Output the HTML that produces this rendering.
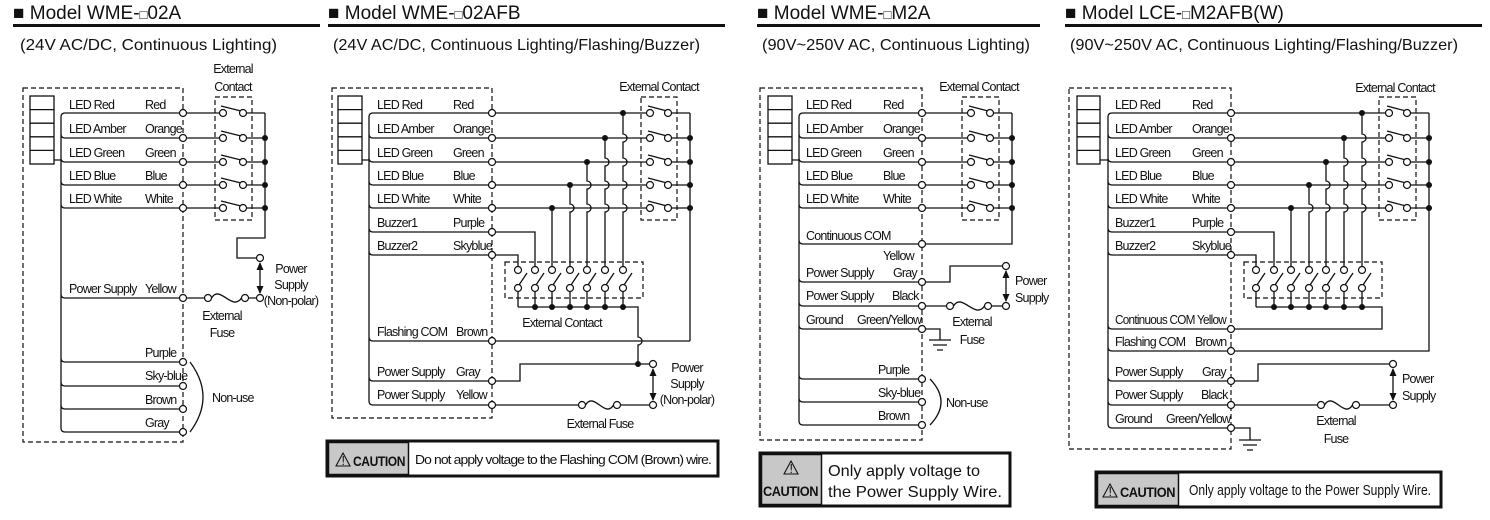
<!DOCTYPE html>
<html><head><meta charset="utf-8"><style>
html,body{margin:0;padding:0;background:#fff;}
svg{display:block;}
.w{stroke:#111;fill:none;stroke-width:1.3}
.d{stroke:#111;fill:none;stroke-width:1.2;stroke-dasharray:5 3}
.t{fill:#fff;stroke:#111;stroke-width:1.2}
.dot{fill:#111}
text{font-family:"Liberation Sans",sans-serif;font-size:12.5px;letter-spacing:-0.8px;fill:#111}
.ti{font-size:19px;letter-spacing:0}
.st{font-size:16px;letter-spacing:0}
.c{text-anchor:middle}
.cb{font-weight:bold;font-size:14px;letter-spacing:-0.5px}
</style></head><body>
<svg width="1490" height="520" viewBox="0 0 1490 520" xmlns="http://www.w3.org/2000/svg">
<defs>
<marker id="ar" markerWidth="8" markerHeight="8" refX="7" refY="4" orient="auto-start-reverse" markerUnits="userSpaceOnUse"><path d="M0,0.5 L8,4 L0,7.5 z" fill="#111"/></marker>
</defs>

<!-- Headers -->
<text class="ti" x="13" y="19">■ Model WME-<tspan font-size="13">□</tspan>02A</text>
<text class="ti" x="328" y="19">■ Model WME-<tspan font-size="13">□</tspan>02AFB</text>
<text class="ti" x="757" y="19">■ Model WME-<tspan font-size="13">□</tspan>M2A</text>
<text class="ti" x="1065" y="19">■ Model LCE-<tspan font-size="13">□</tspan>M2AFB(W)</text>
<rect x="13" y="24" width="307" height="3" fill="#111"/>
<rect x="328" y="24" width="397" height="3" fill="#111"/>
<rect x="757" y="24" width="283" height="3" fill="#111"/>
<rect x="1065" y="24" width="417" height="3" fill="#111"/>
<text class="st" x="20" y="50" textLength="257" lengthAdjust="spacingAndGlyphs">(24V AC/DC, Continuous Lighting)</text>
<text class="st" x="333" y="50" textLength="367" lengthAdjust="spacingAndGlyphs">(24V AC/DC, Continuous Lighting/Flashing/Buzzer)</text>
<text class="st" x="762" y="50" textLength="268" lengthAdjust="spacingAndGlyphs">(90V~250V AC, Continuous Lighting)</text>
<text class="st" x="1070" y="50" textLength="388" lengthAdjust="spacingAndGlyphs">(90V~250V AC, Continuous Lighting/Flashing/Buzzer)</text>

<!-- ================= PANEL 1 ================= -->
<rect class="d" x="23" y="88" width="160" height="354"/>
<rect class="w" x="30" y="96" width="24" height="68"/>
<path class="w" d="M30 109.6H54M30 123.2H54M30 136.8H54M30 150.4H54M54 160H61"/>
<path class="w" d="M61 117V428
M61 117Q61 113 65 113H180 M61 134Q61 138 65 138H180 M61 158Q61 162 65 162H180 M61 181Q61 185 65 185H180 M61 204Q61 208 65 208H180
M61 294Q61 298 65 298H180 M61 358Q61 362 65 362H180 M61 382Q61 386 65 386H180 M61 405Q61 409 65 409H180 M61 428Q61 432 65 432H180"/>
<g class="t"><circle cx="183" cy="113" r="3.5"/><circle cx="183" cy="138" r="3.5"/><circle cx="183" cy="162" r="3.5"/><circle cx="183" cy="185" r="3.5"/><circle cx="183" cy="208" r="3.5"/><circle cx="183" cy="298" r="3.5"/><circle cx="183" cy="362" r="3.5"/><circle cx="183" cy="386" r="3.5"/><circle cx="183" cy="409" r="3.5"/><circle cx="183" cy="432" r="3.5"/></g>
<text x="69" y="109">LED Red</text><text x="69" y="133">LED Amber</text><text x="69" y="157">LED Green</text><text x="69" y="180">LED Blue</text><text x="69" y="203">LED White</text><text x="69" y="293">Power Supply</text>
<text x="145" y="109">Red</text><text x="145" y="133">Orange</text><text x="145" y="157">Green</text><text x="145" y="180">Blue</text><text x="145" y="203">White</text><text x="145" y="293">Yellow</text>
<text x="145" y="357">Purple</text><text x="145" y="380">Sky-blue</text><text x="145" y="404">Brown</text><text x="145" y="427">Gray</text>
<rect class="d" x="215" y="97" width="37" height="123"/>
<text class="c" x="233" y="73">External</text><text class="c" x="233" y="91">Contact</text>
<path class="w" d="M186.5 113H219.5M186.5 138H219.5M186.5 162H219.5M186.5 185H219.5M186.5 208H219.5
M246.5 113H265M246.5 138H265M246.5 162H265M246.5 185H265M246.5 208H265
M221 106L241 111M221 131L241 136M221 155L241 160M221 178L241 183M221 201L241 206
M265 113V238H237V258H256.5"/>
<g class="t"><circle cx="223" cy="113" r="3.5"/><circle cx="243" cy="113" r="3.5"/><circle cx="223" cy="138" r="3.5"/><circle cx="243" cy="138" r="3.5"/><circle cx="223" cy="162" r="3.5"/><circle cx="243" cy="162" r="3.5"/><circle cx="223" cy="185" r="3.5"/><circle cx="243" cy="185" r="3.5"/><circle cx="223" cy="208" r="3.5"/><circle cx="243" cy="208" r="3.5"/></g>
<g class="dot"><circle cx="265" cy="138" r="3"/><circle cx="265" cy="162" r="3"/><circle cx="265" cy="185" r="3"/><circle cx="265" cy="208" r="3"/></g>
<line class="w" x1="260" y1="263" x2="260" y2="293" marker-start="url(#ar)" marker-end="url(#ar)"/>
<path class="w" d="M186.5 298H204.5M211.5 298C220 284 232 312 241.5 298M248.5 298H256.5"/>
<g class="t"><circle cx="208" cy="298" r="3.5"/><circle cx="245" cy="298" r="3.5"/><circle cx="260" cy="258" r="3.5"/><circle cx="260" cy="298" r="3.5"/></g>
<text class="c" x="291" y="273">Power</text><text class="c" x="291" y="289">Supply</text><text class="c" x="291" y="305">(Non-polar)</text>
<text class="c" x="222" y="320">External</text><text class="c" x="222" y="337">Fuse</text>
<path class="w" d="M190 362Q216 397 190 432"/>
<text x="212" y="402">Non-use</text>

<!-- ================= PANEL 2 ================= -->
<rect class="d" x="332" y="88" width="160" height="330"/>
<rect class="w" x="338" y="96" width="24" height="68"/>
<path class="w" d="M338 109.6H362M338 123.2H362M338 136.8H362M338 150.4H362M362 160H369"/>
<path class="w" d="M369 117V401
M369 117Q369 113 373 113H489 M369 134Q369 138 373 138H489 M369 158Q369 162 373 162H489 M369 181Q369 185 373 185H489 M369 204Q369 208 373 208H489
M369 228Q369 232 373 232H489 M369 251Q369 255 373 255H489 M369 337Q369 341 373 341H489 M369 377Q369 381 373 381H489 M369 401Q369 405 373 405H489"/>
<g class="t"><circle cx="492" cy="113" r="3.5"/><circle cx="492" cy="138" r="3.5"/><circle cx="492" cy="162" r="3.5"/><circle cx="492" cy="185" r="3.5"/><circle cx="492" cy="208" r="3.5"/><circle cx="492" cy="232" r="3.5"/><circle cx="492" cy="255" r="3.5"/><circle cx="492" cy="341" r="3.5"/><circle cx="492" cy="381" r="3.5"/><circle cx="492" cy="405" r="3.5"/></g>
<text x="377" y="109">LED Red</text><text x="377" y="133">LED Amber</text><text x="377" y="157">LED Green</text><text x="377" y="180">LED Blue</text><text x="377" y="203">LED White</text><text x="377" y="227">Buzzer1</text><text x="377" y="250">Buzzer2</text><text x="377" y="336">Flashing COM</text><text x="377" y="376">Power Supply</text><text x="377" y="399">Power Supply</text>
<text x="453" y="109">Red</text><text x="453" y="133">Orange</text><text x="453" y="157">Green</text><text x="453" y="180">Blue</text><text x="453" y="203">White</text><text x="453" y="227">Purple</text><text x="453" y="250">Skyblue</text><text x="456" y="336">Brown</text><text x="456" y="376">Gray</text><text x="456" y="399">Yellow</text>
<rect class="d" x="641" y="97" width="36" height="123"/>
<text class="c" x="659" y="91">External Contact</text>
<path class="w" d="M495.5 113H646.5M495.5 138H646.5M495.5 162H646.5M495.5 185H646.5M495.5 208H646.5
M671.5 113H690M671.5 138H690M671.5 162H690M671.5 185H690M671.5 208H690
M648 106L667 111M648 131L667 136M648 155L667 160M648 178L667 183M648 201L667 206
M690 113V341M495.5 341H690
M623 113V134A4 4 0 0 1 623 142V158A4 4 0 0 1 623 166V181A4 4 0 0 1 623 189V204A4 4 0 0 1 623 212V266.5
M605 138V158A4 4 0 0 1 605 166V181A4 4 0 0 1 605 189V204A4 4 0 0 1 605 212V266.5
M587 162V181A4 4 0 0 1 587 189V204A4 4 0 0 1 587 212V266.5
M570 185V204A4 4 0 0 1 570 212V266.5
M552 208V266.5
M495.5 232H535V266.5M495.5 255H518V266.5
M518 291.5V307M535 291.5V307M552 291.5V307M570 291.5V307M587 291.5V307M605 291.5V307M623 291.5V307
M518 307H638V337A4 4 0 0 1 638 345V364
M495.5 381H520V364H649.5
M495.5 405H578.5M585.5 405C594 391 605 419 613.5 405M620.5 405H649.5
M519 285L527 273M536 285L544 273M553 285L561 273M571 285L579 273M588 285L596 273M606 285L614 273M624 285L632 273"/>
<rect class="d" x="505" y="262" width="138" height="36"/>
<g class="t"><circle cx="650" cy="113" r="3.5"/><circle cx="668" cy="113" r="3.5"/><circle cx="650" cy="138" r="3.5"/><circle cx="668" cy="138" r="3.5"/><circle cx="650" cy="162" r="3.5"/><circle cx="668" cy="162" r="3.5"/><circle cx="650" cy="185" r="3.5"/><circle cx="668" cy="185" r="3.5"/><circle cx="650" cy="208" r="3.5"/><circle cx="668" cy="208" r="3.5"/>
<circle cx="518" cy="270" r="3.5"/><circle cx="535" cy="270" r="3.5"/><circle cx="552" cy="270" r="3.5"/><circle cx="570" cy="270" r="3.5"/><circle cx="587" cy="270" r="3.5"/><circle cx="605" cy="270" r="3.5"/><circle cx="623" cy="270" r="3.5"/>
<circle cx="518" cy="288" r="3.5"/><circle cx="535" cy="288" r="3.5"/><circle cx="552" cy="288" r="3.5"/><circle cx="570" cy="288" r="3.5"/><circle cx="587" cy="288" r="3.5"/><circle cx="605" cy="288" r="3.5"/><circle cx="623" cy="288" r="3.5"/>
<circle cx="653" cy="364" r="3.5"/><circle cx="653" cy="405" r="3.5"/><circle cx="582" cy="405" r="3.5"/><circle cx="617" cy="405" r="3.5"/></g>
<g class="dot"><circle cx="690" cy="138" r="3"/><circle cx="690" cy="162" r="3"/><circle cx="690" cy="185" r="3"/><circle cx="690" cy="208" r="3"/>
<circle cx="623" cy="113" r="3"/><circle cx="605" cy="138" r="3"/><circle cx="587" cy="162" r="3"/><circle cx="570" cy="185" r="3"/><circle cx="552" cy="208" r="3"/>
<circle cx="535" cy="307" r="3"/><circle cx="552" cy="307" r="3"/><circle cx="570" cy="307" r="3"/><circle cx="587" cy="307" r="3"/><circle cx="605" cy="307" r="3"/><circle cx="623" cy="307" r="3"/><circle cx="638" cy="364" r="3"/></g>
<text class="c" x="562" y="327">External Contact</text>
<line class="w" x1="653" y1="369" x2="653" y2="400" marker-start="url(#ar)" marker-end="url(#ar)"/>
<text class="c" x="687" y="372">Power</text><text class="c" x="687" y="388">Supply</text><text class="c" x="687" y="404">(Non-polar)</text>
<text class="c" x="600" y="428">External Fuse</text>
<rect x="327" y="441" width="391" height="35" fill="#fff" stroke="#111" stroke-width="3"/>
<rect x="328.5" y="442.5" width="80" height="32" fill="#c8c8c8" stroke="#111" stroke-width="1.5"/>
<path d="M336 466L343 453L350 466Z" fill="none" stroke="#111" stroke-width="1.1"/><text x="341.5" y="465" font-size="9">!</text>
<text class="cb" x="353" y="466" textLength="52" lengthAdjust="spacingAndGlyphs">CAUTION</text>
<text x="415" y="464" textLength="296" lengthAdjust="spacingAndGlyphs">Do not apply voltage to the Flashing COM (Brown) wire.</text>

<!-- ================= PANEL 3 ================= -->
<rect class="d" x="760" y="88" width="162" height="352"/>
<rect class="w" x="768" y="96" width="24" height="68"/>
<path class="w" d="M768 109.6H792M768 123.2H792M768 136.8H792M768 150.4H792M792 160H799"/>
<path class="w" d="M799 117V421
M799 117Q799 113 803 113H919 M799 134Q799 138 803 138H919 M799 158Q799 162 803 162H919 M799 181Q799 185 803 185H919 M799 204Q799 208 803 208H919
M799 240Q799 244 803 244H919 M799 278Q799 282 803 282H919 M799 302Q799 306 803 306H919 M799 325Q799 329 803 329H919
M799 375Q799 379 803 379H919 M799 398Q799 402 803 402H919 M799 421Q799 425 803 425H919"/>
<g class="t"><circle cx="922" cy="113" r="3.5"/><circle cx="922" cy="138" r="3.5"/><circle cx="922" cy="162" r="3.5"/><circle cx="922" cy="185" r="3.5"/><circle cx="922" cy="208" r="3.5"/><circle cx="922" cy="244" r="3.5"/><circle cx="922" cy="282" r="3.5"/><circle cx="922" cy="306" r="3.5"/><circle cx="922" cy="329" r="3.5"/><circle cx="922" cy="379" r="3.5"/><circle cx="922" cy="402" r="3.5"/><circle cx="922" cy="425" r="3.5"/></g>
<text x="806" y="109">LED Red</text><text x="806" y="133">LED Amber</text><text x="806" y="157">LED Green</text><text x="806" y="180">LED Blue</text><text x="806" y="203">LED White</text><text x="806" y="240">Continuous COM</text><text x="806" y="277">Power Supply</text><text x="806" y="300">Power Supply</text><text x="806" y="324">Ground</text>
<text x="883" y="109">Red</text><text x="883" y="133">Orange</text><text x="883" y="157">Green</text><text x="883" y="180">Blue</text><text x="883" y="203">White</text><text x="883" y="260">Yellow</text><text x="893" y="277">Gray</text><text x="892" y="300">Black</text><text x="857" y="324">Green/Yellow</text>
<text x="878" y="374">Purple</text><text x="878" y="397">Sky-blue</text><text x="878" y="420">Brown</text>
<rect class="d" x="962" y="97" width="37" height="123"/>
<text class="c" x="979" y="91">External Contact</text>
<path class="w" d="M925.5 113H967.5M925.5 138H967.5M925.5 162H967.5M925.5 185H967.5M925.5 208H967.5
M993.5 113H1012M993.5 138H1012M993.5 162H1012M993.5 185H1012M993.5 208H1012
M969 106L988 111M969 131L988 136M969 155L988 160M969 178L988 183M969 201L988 206
M1012 113V244H925.5
M925.5 282H950V266H1002.5
M925.5 306H946.5M953.5 306C962 292 975 320 984.5 306M991.5 306H1002.5
M925.5 329H940V340M929 340H951M933 345H947M937 350H943"/>
<g class="t"><circle cx="971" cy="113" r="3.5"/><circle cx="990" cy="113" r="3.5"/><circle cx="971" cy="138" r="3.5"/><circle cx="990" cy="138" r="3.5"/><circle cx="971" cy="162" r="3.5"/><circle cx="990" cy="162" r="3.5"/><circle cx="971" cy="185" r="3.5"/><circle cx="990" cy="185" r="3.5"/><circle cx="971" cy="208" r="3.5"/><circle cx="990" cy="208" r="3.5"/>
<circle cx="1006" cy="266" r="3.5"/><circle cx="1006" cy="306" r="3.5"/><circle cx="950" cy="306" r="3.5"/><circle cx="988" cy="306" r="3.5"/></g>
<g class="dot"><circle cx="1012" cy="138" r="3"/><circle cx="1012" cy="162" r="3"/><circle cx="1012" cy="185" r="3"/><circle cx="1012" cy="208" r="3"/></g>
<line class="w" x1="1006" y1="271" x2="1006" y2="301" marker-start="url(#ar)" marker-end="url(#ar)"/>
<text x="1015" y="285">Power</text><text x="1015" y="302">Supply</text>
<text class="c" x="972" y="326">External</text><text class="c" x="972" y="344">Fuse</text>
<path class="w" d="M930 379Q952 402 930 425"/>
<text x="946" y="407">Non-use</text>
<rect x="760" y="453" width="250" height="53" fill="#fff" stroke="#111" stroke-width="3"/>
<rect x="761.5" y="454.5" width="60" height="50" fill="#c8c8c8" stroke="#111" stroke-width="1.5"/>
<path d="M784 474L791 461L798 474Z" fill="none" stroke="#111" stroke-width="1.1"/><text x="789.5" y="473" font-size="9">!</text>
<text class="cb" x="763" y="496" textLength="55" lengthAdjust="spacingAndGlyphs">CAUTION</text>
<text x="828" y="476" style="font-size:16px;letter-spacing:0" textLength="152" lengthAdjust="spacingAndGlyphs">Only apply voltage to</text>
<text x="828" y="497" style="font-size:16px;letter-spacing:0" textLength="174" lengthAdjust="spacingAndGlyphs">the Power Supply Wire.</text>

<!-- ================= PANEL 4 ================= -->
<rect class="d" x="1069" y="88" width="162" height="361"/>
<rect class="w" x="1077" y="96" width="23" height="68"/>
<path class="w" d="M1077 109.6H1100M1077 123.2H1100M1077 136.8H1100M1077 150.4H1100M1100 160H1108"/>
<path class="w" d="M1108 117V424
M1108 117Q1108 113 1112 113H1228 M1108 134Q1108 138 1112 138H1228 M1108 158Q1108 162 1112 162H1228 M1108 181Q1108 185 1112 185H1228 M1108 204Q1108 208 1112 208H1228
M1108 228Q1108 232 1112 232H1228 M1108 251Q1108 255 1112 255H1228 M1108 325Q1108 329 1112 329H1228 M1108 347Q1108 351 1112 351H1228
M1108 377Q1108 381 1112 381H1228 M1108 401Q1108 405 1112 405H1228 M1108 424Q1108 428 1112 428H1228"/>
<g class="t"><circle cx="1231" cy="113" r="3.5"/><circle cx="1231" cy="138" r="3.5"/><circle cx="1231" cy="162" r="3.5"/><circle cx="1231" cy="185" r="3.5"/><circle cx="1231" cy="208" r="3.5"/><circle cx="1231" cy="232" r="3.5"/><circle cx="1231" cy="255" r="3.5"/><circle cx="1231" cy="329" r="3.5"/><circle cx="1231" cy="351" r="3.5"/><circle cx="1231" cy="381" r="3.5"/><circle cx="1231" cy="405" r="3.5"/><circle cx="1231" cy="428" r="3.5"/></g>
<text x="1115" y="109">LED Red</text><text x="1115" y="133">LED Amber</text><text x="1115" y="157">LED Green</text><text x="1115" y="180">LED Blue</text><text x="1115" y="203">LED White</text><text x="1115" y="227">Buzzer1</text><text x="1115" y="250">Buzzer2</text><text x="1115" y="324" textLength="111" lengthAdjust="spacingAndGlyphs">Continuous COM Yellow</text><text x="1115" y="346">Flashing COM</text><text x="1115" y="376">Power Supply</text><text x="1115" y="399">Power Supply</text><text x="1115" y="423">Ground</text>
<text x="1192" y="109">Red</text><text x="1192" y="133">Orange</text><text x="1192" y="157">Green</text><text x="1192" y="180">Blue</text><text x="1192" y="203">White</text><text x="1192" y="227">Purple</text><text x="1192" y="250">Skyblue</text><text x="1195" y="346">Brown</text><text x="1202" y="376">Gray</text><text x="1201" y="399">Black</text><text x="1166" y="423">Green/Yellow</text>
<rect class="d" x="1379" y="97" width="37" height="123"/>
<text class="c" x="1395" y="92">External Contact</text>
<path class="w" d="M1234.5 113H1385.5M1234.5 138H1385.5M1234.5 162H1385.5M1234.5 185H1385.5M1234.5 208H1385.5
M1410.5 113H1429M1410.5 138H1429M1410.5 162H1429M1410.5 185H1429M1410.5 208H1429
M1387 106L1406 111M1387 131L1406 136M1387 155L1406 160M1387 178L1406 183M1387 201L1406 206
M1429 113V351H1234.5
M1362 113V134A4 4 0 0 1 1362 142V158A4 4 0 0 1 1362 166V181A4 4 0 0 1 1362 189V204A4 4 0 0 1 1362 212V266.5
M1344 138V158A4 4 0 0 1 1344 166V181A4 4 0 0 1 1344 189V204A4 4 0 0 1 1344 212V266.5
M1326 162V181A4 4 0 0 1 1326 189V204A4 4 0 0 1 1326 212V266.5
M1309 185V204A4 4 0 0 1 1309 212V266.5
M1291 208V266.5
M1234.5 232H1274V266.5M1234.5 255H1256V266.5
M1256 291.5V307M1274 291.5V307M1291 291.5V307M1309 291.5V307M1326 291.5V307M1344 291.5V307M1362 291.5V307
M1256 307H1382V329H1234.5
M1234.5 381H1258V364H1389.5
M1234.5 405H1317.5M1324.5 405C1333 391 1344 419 1352.5 405M1359.5 405H1389.5
M1234.5 428H1250V440M1239 440H1261M1243 445H1257M1247 450H1253
M1257 285L1265 273M1275 285L1283 273M1292 285L1300 273M1310 285L1318 273M1327 285L1335 273M1345 285L1353 273M1363 285L1371 273"/>
<rect class="d" x="1244" y="262" width="138" height="36"/>
<g class="t"><circle cx="1389" cy="113" r="3.5"/><circle cx="1407" cy="113" r="3.5"/><circle cx="1389" cy="138" r="3.5"/><circle cx="1407" cy="138" r="3.5"/><circle cx="1389" cy="162" r="3.5"/><circle cx="1407" cy="162" r="3.5"/><circle cx="1389" cy="185" r="3.5"/><circle cx="1407" cy="185" r="3.5"/><circle cx="1389" cy="208" r="3.5"/><circle cx="1407" cy="208" r="3.5"/>
<circle cx="1256" cy="270" r="3.5"/><circle cx="1274" cy="270" r="3.5"/><circle cx="1291" cy="270" r="3.5"/><circle cx="1309" cy="270" r="3.5"/><circle cx="1326" cy="270" r="3.5"/><circle cx="1344" cy="270" r="3.5"/><circle cx="1362" cy="270" r="3.5"/>
<circle cx="1256" cy="288" r="3.5"/><circle cx="1274" cy="288" r="3.5"/><circle cx="1291" cy="288" r="3.5"/><circle cx="1309" cy="288" r="3.5"/><circle cx="1326" cy="288" r="3.5"/><circle cx="1344" cy="288" r="3.5"/><circle cx="1362" cy="288" r="3.5"/>
<circle cx="1393" cy="364" r="3.5"/><circle cx="1393" cy="405" r="3.5"/><circle cx="1321" cy="405" r="3.5"/><circle cx="1356" cy="405" r="3.5"/></g>
<g class="dot"><circle cx="1429" cy="138" r="3"/><circle cx="1429" cy="162" r="3"/><circle cx="1429" cy="185" r="3"/><circle cx="1429" cy="208" r="3"/>
<circle cx="1362" cy="113" r="3"/><circle cx="1344" cy="138" r="3"/><circle cx="1326" cy="162" r="3"/><circle cx="1309" cy="185" r="3"/><circle cx="1291" cy="208" r="3"/>
<circle cx="1274" cy="307" r="3"/><circle cx="1291" cy="307" r="3"/><circle cx="1309" cy="307" r="3"/><circle cx="1326" cy="307" r="3"/><circle cx="1344" cy="307" r="3"/><circle cx="1362" cy="307" r="3"/></g>
<line class="w" x1="1393" y1="369" x2="1393" y2="400" marker-start="url(#ar)" marker-end="url(#ar)"/>
<text x="1402" y="383">Power</text><text x="1402" y="400">Supply</text>
<text class="c" x="1336" y="425">External</text><text class="c" x="1336" y="443">Fuse</text>
<rect x="1096" y="472" width="345" height="35" fill="#fff" stroke="#111" stroke-width="3"/>
<rect x="1097.5" y="473.5" width="81" height="32" fill="#c8c8c8" stroke="#111" stroke-width="1.5"/>
<path d="M1103 497L1110 484L1117 497Z" fill="none" stroke="#111" stroke-width="1.1"/><text x="1108.5" y="496" font-size="9">!</text>
<text class="cb" x="1120" y="497" textLength="55" lengthAdjust="spacingAndGlyphs">CAUTION</text>
<text x="1189" y="495" style="font-size:15px;letter-spacing:0" textLength="242" lengthAdjust="spacingAndGlyphs">Only apply voltage to the Power Supply Wire.</text>
</svg>
</body></html>
